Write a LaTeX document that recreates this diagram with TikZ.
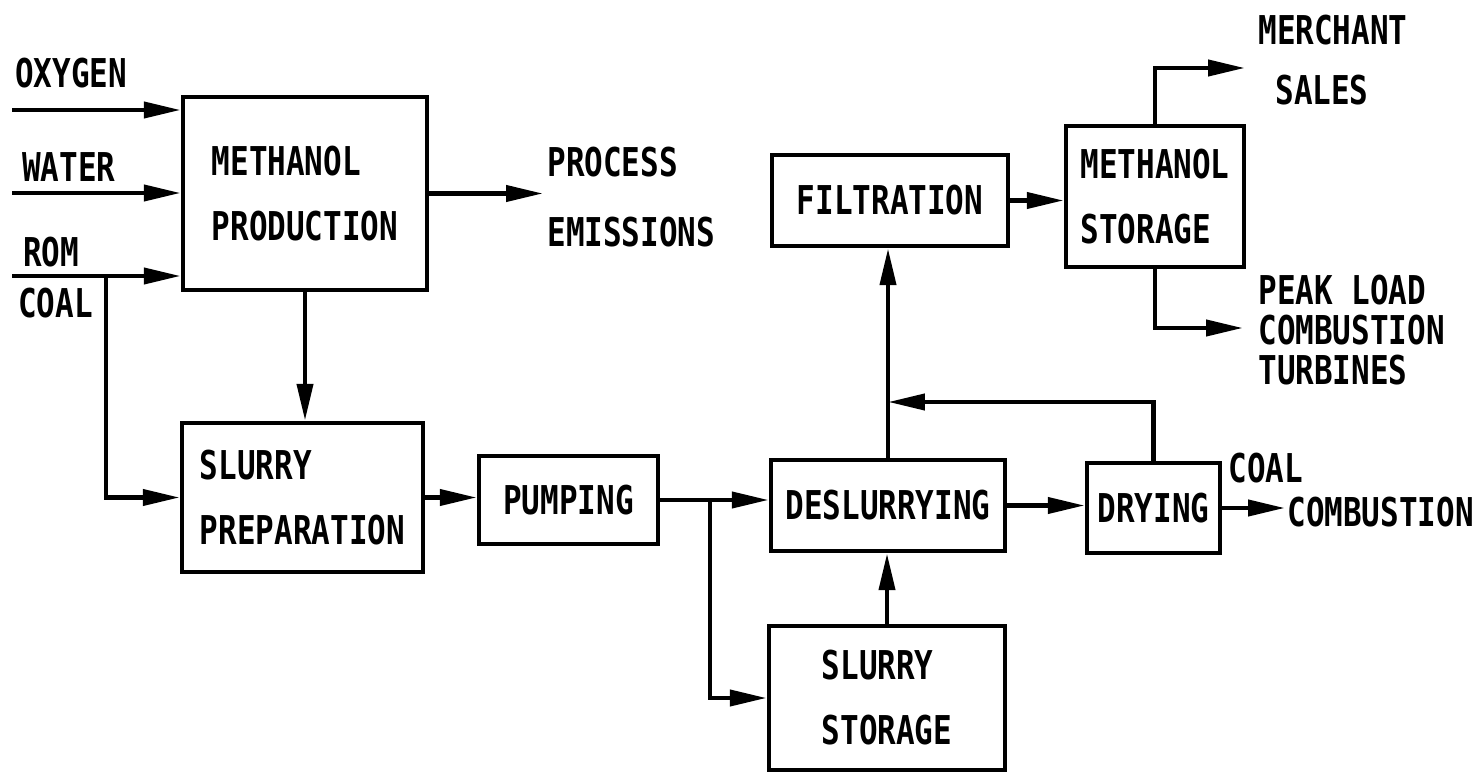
\documentclass[tikz,border=0pt]{standalone}
\usepackage{fontspec}
\setmainfont[FakeStretch=0.78]{DejaVu Sans Mono Bold}
\usetikzlibrary{arrows.meta}

\begin{document}
\begin{tikzpicture}[x=0.02cm, y=-0.02cm,
    font=\fontsize{22.6}{37}\selectfont,
    box/.style={draw, line width=2.6pt, align=left, inner sep=0pt},
    lbl/.style={anchor=north west, inner sep=0pt, align=left},
    flow/.style={line width=2.6pt, -{Triangle[length=21pt,width=9pt]}}]
    \useasboundingbox (0,0) rectangle (1484,773);

    % process boxes
    \node[box, minimum width=4.88cm, minimum height=3.86cm] (mprod) at (305,193.5) {METHANOL\\PRODUCTION};
    \node[box, minimum width=4.82cm, minimum height=2.98cm] (sprep) at (302.5,497.5) {SLURRY\\PREPARATION};
    \node[box, minimum width=3.58cm, minimum height=1.76cm] (pump) at (568.5,500) {PUMPING};
    \node[box, minimum width=4.68cm, minimum height=1.82cm] (deslurry) at (888,505.5) {DESLURRYING};
    \node[box, minimum width=4.72cm, minimum height=2.88cm] (sstore) at (887,698) {SLURRY\\STORAGE};
    \node[box, minimum width=4.72cm, minimum height=1.82cm] (filt) at (890,200.5) {FILTRATION};
    \node[box, minimum width=3.56cm, minimum height=2.82cm] (mstore) at (1155,196.5) {METHANOL\\STORAGE};
    \node[box, minimum width=2.66cm, minimum height=1.80cm] (dry) at (1153.5,508) {DRYING};

    % feeds and products
    \node[lbl] (oxylbl) at (15,58) {OXYGEN};
    \node[lbl] (watlbl) at (22,152) {WATER};
    \node[lbl] (romlbl) at (23,237) {ROM};
    \node[lbl] (coallbl) at (18,288) {COAL};
    \node[lbl] (proclbl) at (547,147) {PROCESS};
    \node[lbl] (emislbl) at (547,217) {EMISSIONS};
    \node[lbl] (merclbl) at (1258,15) {MERCHANT};
    \node[lbl] (saleslbl) at (1275,75) {SALES};
    \node[lbl, font=\fontsize{22.6}{22.8}\selectfont] (peaklbl) at (1258,275) {PEAK LOAD\\COMBUSTION\\TURBINES};
    \node[lbl] (coal2lbl) at (1228,453) {COAL};
    \node[lbl] (comblbl) at (1287,497) {COMBUSTION};

    \coordinate (oxy) at (12,110);
    \coordinate (wat) at (12,193);
    \coordinate (rom) at (12,276);
    \coordinate (romtap) at (106,276);
    \coordinate (emis) at (543,195);
    \coordinate (split) at (710,500);
    \coordinate (join) at (888,402);
    \coordinate (sales) at (1245,68);
    \coordinate (peak) at (1243,328);
    \coordinate (coalout) at (1285,505);

    \draw[flow] (oxy) -- (oxy -| mprod.west);
    \draw[flow] (wat) -- (wat -| mprod.west);
    \draw[flow] (rom) -- (rom -| mprod.west);
    \draw[flow] (romtap) |- (sprep.west);
    \draw[flow] (mprod.east) -- (mprod.east -| emis);
    \draw[flow] (mprod.south) -- (mprod.south |- sprep.north);
    \draw[flow] (sprep.east) -- (sprep.east -| pump.west);
    \draw[flow] (pump.east) -- (pump.east -| deslurry.west);
    \draw[flow] (split) |- (sstore.west);
    \draw[flow] (sstore.north) -- (sstore.north |- deslurry.south);
    \draw[flow] (deslurry.north) -- (deslurry.north |- filt.south);
    \draw[flow] (dry.north) |- (join);
    \draw[flow] (deslurry.east) -- (deslurry.east -| dry.west);
    \draw[flow] (dry.east) -- (dry.east -| coalout);
    \draw[flow] (filt.east) -- (filt.east -| mstore.west);
    \draw[flow] (mstore.north) |- (sales);
    \draw[flow] (mstore.south) |- (peak);
\end{tikzpicture}
\end{document}
